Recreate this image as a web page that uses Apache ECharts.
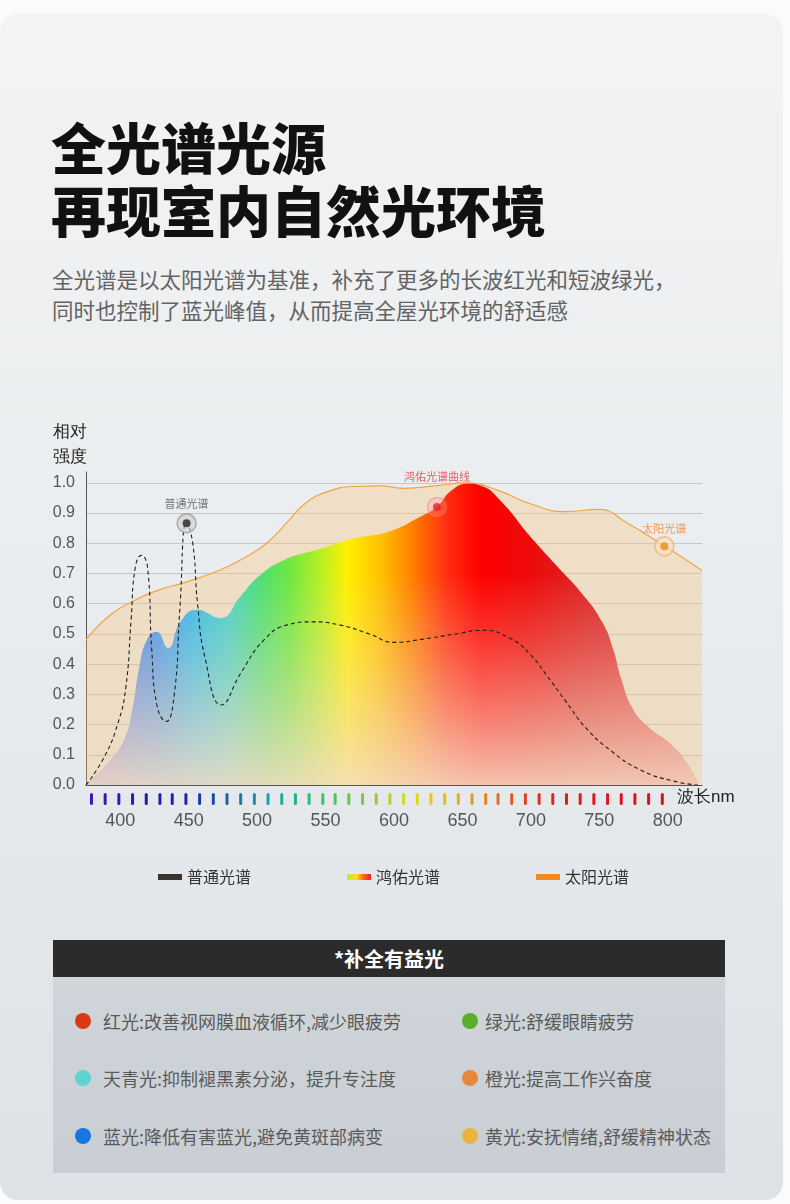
<!DOCTYPE html>
<html>
<head>
<meta charset="utf-8">
<script src="https://cdn.jsdelivr.net/npm/echarts@6/dist/echarts.min.js"></script>
<style>
  html, body { margin: 0; padding: 0; }
  body { width: 790px; height: 1204px; position: relative; overflow: hidden; background: #fbfbfb;
    font-family: 'Noto Sans CJK SC', 'Noto Sans', sans-serif; }
  .card { position: absolute; left: 0; top: 14px; width: 783px; height: 1186px; border-radius: 18px;
    background: linear-gradient(to bottom, #f2f3f4 0%, #eaedef 45%, #dde2e7 100%); }
  .title { position: absolute; left: 51px; top: 114px; margin: 0; font-size: 55px; line-height: 63px;
    font-weight: 900; color: #111; letter-spacing: 0; }
  .lead { position: absolute; left: 52px; top: 263px; margin: 0; font-size: 21.5px; line-height: 31px; color: #636363; }
  #chart { position: absolute; left: 0; top: 0; width: 790px; height: 1204px; }
  .panel { position: absolute; left: 53px; top: 940px; width: 672px; }
  .panel-head { height: 37px; line-height: 37px; background: #2b2b2b; color: #fff; text-align: center;
    font-size: 20px; font-weight: 700; }
  .panel-body { position: relative; height: 196px; background: linear-gradient(to bottom, #d0d5da, #c9ced4); }
  .item { position: absolute; height: 24px; line-height: 24px; font-size: 18px; color: #5a5a5a; white-space: nowrap; }
  .item i { position: absolute; left: 0; top: 4px; width: 16px; height: 16px; border-radius: 50%; }
  .item.l span { margin-left: 28px; }
  .item.r span { margin-left: 23px; }
</style>
</head>
<body>
<div class="card"></div>
<h1 class="title">全光谱光源<br>再现室内自然光环境</h1>
<p class="lead">全光谱是以太阳光谱为基准，补充了更多的长波红光和短波绿光，<br>同时也控制了蓝光峰值，从而提高全屋光环境的舒适感</p>
<div class="panel">
  <div class="panel-head">*补全有益光</div>
  <div class="panel-body">
    <div class="item l" style="left:22px;top:32px"><i style="background:#dc3812"></i><span>红光:改善视网膜血液循环,减少眼疲劳</span></div>
    <div class="item r" style="left:409px;top:32px"><i style="background:#5aae2c"></i><span>绿光:舒缓眼睛疲劳</span></div>
    <div class="item l" style="left:22px;top:89px"><i style="background:#5fd3cf"></i><span>天青光:抑制褪黑素分泌，提升专注度</span></div>
    <div class="item r" style="left:409px;top:89px"><i style="background:#e8873c"></i><span>橙光:提高工作兴奋度</span></div>
    <div class="item l" style="left:22px;top:147px"><i style="background:#1677e0"></i><span>蓝光:降低有害蓝光,避免黄斑部病变</span></div>
    <div class="item r" style="left:409px;top:147px"><i style="background:#ecb23f"></i><span>黄光:安抚情绪,舒缓精神状态</span></div>
  </div>
</div>
<div id="chart"></div>
<script>
// wavelength (nm) / relative intensity
const sunNm = [375, 392, 410, 428, 447, 472, 490, 507, 522, 536, 552, 570, 590, 608, 630, 653, 676, 700, 725, 750, 770, 798, 825]
const sunVal = [0.48, 0.56, 0.61, 0.645, 0.67, 0.71, 0.75, 0.80, 0.87, 0.935, 0.972, 0.988, 0.99, 0.982, 0.99, 1.0, 0.975, 0.93, 0.905, 0.912, 0.868, 0.79, 0.71]

const honyoNm = [375, 392, 403, 409, 414, 419.5, 426.5, 435, 444, 456, 473, 488, 501, 520, 545, 570, 597, 618, 631, 642, 654, 664, 678, 700, 720, 738, 752, 760, 766, 774, 786, 802, 814, 822]
const honyoVal = [0, 0.075, 0.15, 0.25, 0.39, 0.48, 0.507, 0.453, 0.54, 0.58, 0.553, 0.625, 0.69, 0.745, 0.78, 0.815, 0.84, 0.885, 0.92, 0.975, 0.997, 0.99, 0.94, 0.82, 0.72, 0.63, 0.54, 0.45, 0.35, 0.255, 0.19, 0.135, 0.07, 0]

const normalNm = [375, 388, 398, 404, 408, 411, 415.5, 420, 423, 427, 433.5, 439.5, 443.5, 448.5, 453, 456.5, 462, 474, 488, 505, 522, 540, 560, 582, 600, 620, 645, 665, 685, 700, 712, 725, 740, 758, 780, 805, 822]
const normalVal = [0, 0.09, 0.2, 0.32, 0.55, 0.72, 0.76, 0.72, 0.45, 0.26, 0.21, 0.3, 0.58, 0.87, 0.8, 0.6, 0.42, 0.265, 0.37, 0.48, 0.53, 0.54, 0.53, 0.5, 0.472, 0.482, 0.5, 0.512, 0.485, 0.43, 0.36, 0.28, 0.19, 0.115, 0.05, 0.012, 0]

// marked points on each curve
const normalMark = [448.5, 0.866]
const honyoMark = [631.4, 0.92]
const sunMark = [797.5, 0.79]

const xLabels = [400, 450, 500, 550, 600, 650, 700, 750, 800]
// coloured wavelength ticks under the axis
const tickNm = [379, 389, 399, 409, 419, 429, 438, 448, 458, 468, 478, 488, 498, 508, 518, 528, 538, 548, 557, 567, 577, 587, 597, 607, 617, 627, 637, 647, 657, 667, 676, 686, 696, 706, 716, 726, 736, 746, 756, 766, 776, 786, 796]

const tickStops = [
  [380, '#3c1ab8'], [420, '#2a1aa8'], [450, '#1a2aa0'], [470, '#1a50b0'], [490, '#1880a8'],
  [510, '#18a8a8'], [530, '#20b880'], [550, '#40c460'], [575, '#78c840'], [590, '#a0cc38'],
  [610, '#d8dc20'], [630, '#e2cc18'], [655, '#e0a020'], [680, '#e06820'], [700, '#e03a20'],
  [720, '#e01c20'], [800, '#e00c20']
]

function hexToRgb(h) {
  return [parseInt(h.slice(1, 3), 16), parseInt(h.slice(3, 5), 16), parseInt(h.slice(5, 7), 16)]
}
function tickColor(nm) {
  for (let i = 0; i < tickStops.length - 1; i++) {
    const a = tickStops[i], b = tickStops[i + 1]
    if (nm <= b[0] || i === tickStops.length - 2) {
      const t = Math.max(0, Math.min(1, (nm - a[0]) / (b[0] - a[0])))
      const ca = hexToRgb(a[1]), cb = hexToRgb(b[1])
      return 'rgb(' + ca.map((v, k) => Math.round(v + (cb[k] - v) * t)).join(',') + ')'
    }
  }
}

const zip = (xs, ys) => xs.map((x, i) => [x, ys[i]])
const nmMin = 375, nmMax = 825
const off = nm => (nm - nmMin) / (nmMax - nmMin)

const spectrumFill = new echarts.graphic.LinearGradient(0, 0, 1, 0, [
  { offset: 0, color: '#7a70d0' },
  { offset: off(410), color: '#5a88e0' },
  { offset: off(430), color: '#4898e8' },
  { offset: off(455), color: '#38bce8' },
  { offset: off(480), color: '#48d0c8' },
  { offset: off(505), color: '#50e070' },
  { offset: off(525), color: '#6ee840' },
  { offset: off(550), color: '#c0f020' },
  { offset: off(567), color: '#fff000' },
  { offset: off(592), color: '#ffc000' },
  { offset: off(615), color: '#ff8000' },
  { offset: off(640), color: '#ff3010' },
  { offset: off(665), color: '#ff0000' },
  { offset: off(700), color: '#ee0a0a' },
  { offset: off(740), color: '#dd2222' },
  { offset: 1, color: '#e04040' }
])
const fadeFill = new echarts.graphic.LinearGradient(0, 0, 0, 1, [
  { offset: 0, color: 'rgba(244,220,196,0)' },
  { offset: 0.3, color: 'rgba(244,220,196,0)' },
  { offset: 0.55, color: 'rgba(244,220,196,0.28)' },
  { offset: 0.8, color: 'rgba(244,220,196,0.6)' },
  { offset: 1, color: 'rgba(244,220,196,0.88)' }
])
const legendSpectrum = new echarts.graphic.LinearGradient(0, 0, 1, 0, [
  { offset: 0, color: '#b8ec30' },
  { offset: 0.4, color: '#f4e020' },
  { offset: 0.7, color: '#ff6020' },
  { offset: 1, color: '#ff2020' }
])

function marker(name, point, dotColor, ringColor, ringBorder, labelColor, labelDist) {
  return [{
    name: name, type: 'scatter', data: [point], symbolSize: 19, z: 5, silent: true,
    itemStyle: { color: ringColor, borderColor: ringBorder, borderWidth: 1.5 },
    label: { show: true, position: 'top', distance: labelDist, formatter: name, color: labelColor, fontSize: 11 }
  }, {
    name: name + '点', type: 'scatter', data: [point], symbolSize: 8, z: 6, silent: true,
    itemStyle: { color: dotColor }
  }]
}

const chart = echarts.init(document.getElementById('chart'))
const fontNum = "'Liberation Sans', Arial, sans-serif"

chart.setOption({
  animation: false,
  textStyle: { fontFamily: "'Noto Sans CJK SC', sans-serif" },
  grid: [
    { left: 86, right: 88, top: 472, bottom: 419 },
    { left: 86, right: 88, top: 793, height: 12 }
  ],
  legend: {
    left: 158, top: 869, padding: 0, icon: 'rect', itemWidth: 24, itemHeight: 6, itemGap: 96,
    textStyle: { fontSize: 16, color: '#333' },
    data: [
      { name: '普通光谱', itemStyle: { color: '#3b342d', borderWidth: 0 } },
      { name: '鸿佑光谱', itemStyle: { color: legendSpectrum, borderWidth: 0 } },
      { name: '太阳光谱', itemStyle: { color: '#f5891f', borderWidth: 0 } }
    ]
  },
  graphic: [
    { type: 'text', left: 53, top: 420, style: { text: '相对\n强度', fontSize: 17, lineHeight: 25, fill: '#222' } },
    { type: 'text', left: 677, top: 789, style: { text: '波长nm', fontSize: 17, fill: '#222' } }
  ],
  xAxis: [{
    type: 'value', min: nmMin, max: nmMax,
    axisLine: { lineStyle: { color: '#555', width: 1 } },
    axisTick: { show: false },
    splitLine: { show: false },
    axisLabel: { customValues: xLabels, margin: 27, fontSize: 18, color: '#555', fontFamily: fontNum }
  }, {
    type: 'value', gridIndex: 1, min: nmMin, max: nmMax, show: false
  }],
  yAxis: [{
    type: 'value', min: 0, max: 1.036, interval: 0.1,
    axisLine: { show: true, lineStyle: { color: '#555', width: 1 } },
    axisTick: { show: false },
    splitLine: { showMinLine: false, showMaxLine: false, lineStyle: { color: 'rgba(150,150,150,0.45)', width: 1 } },
    axisLabel: { showMaxLabel: false, margin: 11, fontSize: 16, color: '#555', fontFamily: fontNum,
      formatter: v => v.toFixed(1) }
  }, {
    type: 'value', gridIndex: 1, min: 0, max: 1, show: false
  }],
  series: [{
    name: '太阳光谱', type: 'line', data: zip(sunNm, sunVal), smooth: 0.5,
    showSymbol: false, z: 2,
    itemStyle: { color: '#f5891f' },
    lineStyle: { color: '#f2a444', width: 1.2 },
    areaStyle: { color: 'rgba(252,194,118,0.48)' }
  }, {
    name: '鸿佑光谱', type: 'line', data: zip(honyoNm, honyoVal), smooth: 0.5,
    showSymbol: false, z: 3,
    itemStyle: { color: '#ff4020' },
    lineStyle: { width: 0 },
    areaStyle: { color: spectrumFill, opacity: 1 }
  }, {
    name: '鸿佑光谱', type: 'line', data: zip(honyoNm, honyoVal), smooth: 0.5,
    showSymbol: false, z: 3,
    lineStyle: { width: 0 },
    areaStyle: { color: fadeFill, opacity: 1 }
  }, {
    name: '普通光谱', type: 'line', data: zip(normalNm, normalVal), smooth: 0.5,
    showSymbol: false, z: 4,
    itemStyle: { color: '#3b342d' },
    lineStyle: { color: '#1e1e1e', width: 1.1, type: [4, 3] }
  },
  ...marker('普通光谱', normalMark, '#262626', 'rgba(205,205,205,0.75)', '#9a9a9a', '#555', 4),
  ...marker('鸿佑光谱曲线', honyoMark, '#e8202a', 'rgba(255,150,150,0.35)', 'rgba(240,120,120,0.55)', '#e63a48', 14),
  ...marker('太阳光谱', sunMark, '#f08a20', 'rgba(250,222,186,0.8)', '#f0b070', '#f08a28', 2),
  {
    name: '波长刻度', type: 'bar', xAxisIndex: 1, yAxisIndex: 1, barWidth: 3, silent: true,
    data: tickNm.map(nm => [nm, 1]),
    itemStyle: { color: p => tickColor(p.value[0]), borderRadius: 1.5 }
  }]
})
</script>
</body>
</html>
